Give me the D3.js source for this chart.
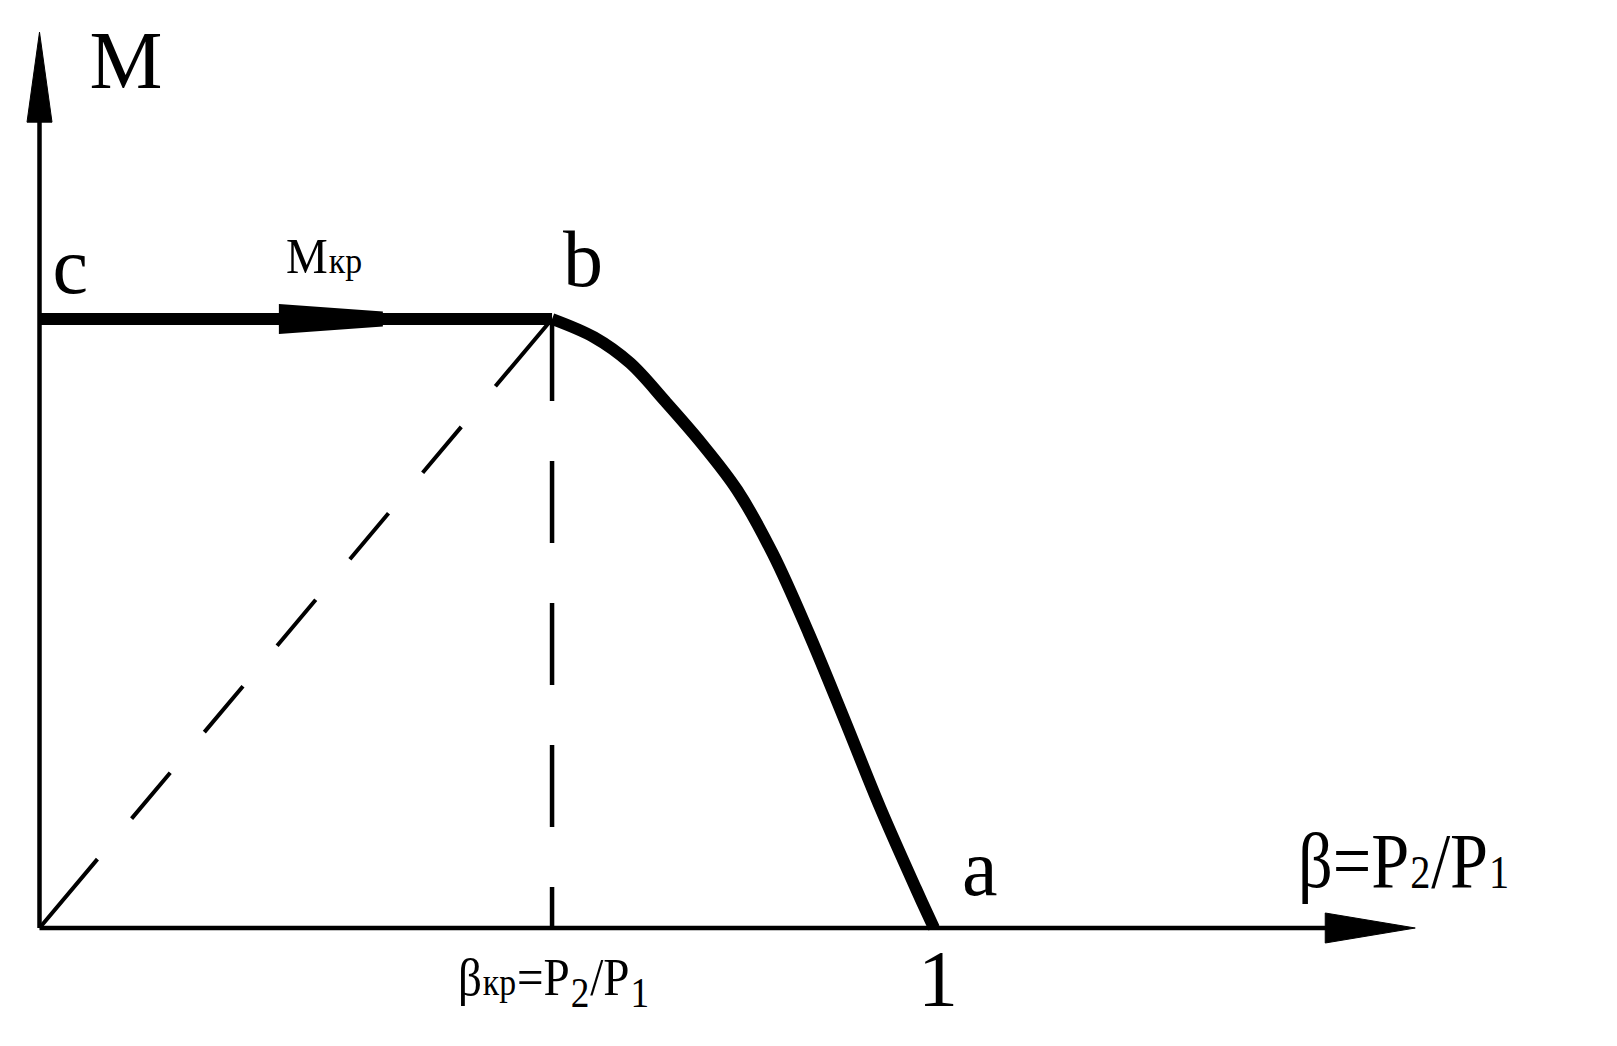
<!DOCTYPE html>
<html>
<head>
<meta charset="utf-8">
<script src="https://cdn.jsdelivr.net/npm/d3@7/dist/d3.min.js"></script>
<style>
  html, body { margin: 0; padding: 0; background: #fff; }
  svg { display: block; }
  text { font-family: "Liberation Serif", "Times New Roman", serif; fill: #000; }
</style>
</head>
<body>
<svg id="chart" width="1617" height="1046"></svg>
<script>
// ---- data (β = P2/P1 on x, M on y; M normalised to M_kr = 1) ----
const betaKr = 0.573;          // critical pressure ratio
const mKr = 1.0;               // critical (max) value
const axisXMax = 1.538;        // arrow tip of β axis
const axisYMax = 1.471;        // arrow tip of M axis
// curve b -> a
const curveBeta = [0.573, 0.62, 0.66, 0.70, 0.74, 0.78, 0.82, 0.86, 0.90, 0.94, 0.98, 1.0];
const curveM    = [1.000, 0.970, 0.928, 0.864, 0.796, 0.719, 0.614, 0.484, 0.342, 0.197, 0.064, 0.0];
// point labels
const pointNames = ["c", "b", "a"];
const pointBeta  = [0, betaKr, 1];
const pointM     = [mKr, mKr, 0];
const tickLabels = ["1"];
const tickValues = [1];

const svg = d3.select("#chart");
const x = d3.scaleLinear().domain([0, 1]).range([39.5, 934]);
const y = d3.scaleLinear().domain([0, 1]).range([928, 319]);

const ink = "#000";

// ---- axes ----
svg.append("line")
  .attr("x1", x(0)).attr("y1", y(0)).attr("x2", x(0)).attr("y2", y(axisYMax) + 20)
  .attr("stroke", ink).attr("stroke-width", 4.5);
svg.append("line")
  .attr("x1", x(0)).attr("y1", y(0)).attr("x2", x(axisXMax) - 20).attr("y2", y(0))
  .attr("stroke", ink).attr("stroke-width", 4.5);

// arrowheads
const yt = y(axisYMax), x0 = x(0);
svg.append("path")
  .attr("d", `M${x0},${yt} L${x0 + 12.5},${yt + 90} L${x0 - 12.5},${yt + 90} Z`)
  .attr("fill", ink).attr("stroke", ink).attr("stroke-width", 1).attr("stroke-linejoin", "round");
const xt = x(axisXMax), y0 = y(0);
svg.append("path")
  .attr("d", `M${xt},${y0} L${xt - 90},${y0 - 15} L${xt - 90},${y0 + 15} Z`)
  .attr("fill", ink).attr("stroke", ink).attr("stroke-width", 1).attr("stroke-linejoin", "round");

// ---- dashed construction lines ----
svg.append("line")
  .attr("x1", x(betaKr)).attr("y1", y(mKr)).attr("x2", x(betaKr)).attr("y2", y(0))
  .attr("stroke", ink).attr("stroke-width", 4.5).attr("stroke-dasharray", "82,60");
svg.append("line")
  .attr("x1", x(0)).attr("y1", y(0)).attr("x2", x(betaKr)).attr("y2", y(mKr))
  .attr("stroke", ink).attr("stroke-width", 4)
  .attr("stroke-dasharray", "90,53,60,53,60,53,60,53,60,53,60,53,120");

// ---- c-b horizontal (M_kr) ----
svg.append("line")
  .attr("x1", x(0)).attr("y1", y(mKr)).attr("x2", x(betaKr)).attr("y2", y(mKr))
  .attr("stroke", ink).attr("stroke-width", 12);
// direction arrow on c-b
const ax0 = x(0) + (x(betaKr) - x(0)) * 0.467, ax1 = ax0 + 104, ay = y(mKr);
svg.append("path")
  .attr("d", `M${ax0},${ay - 15} L${ax1},${ay - 7.5} L${ax1},${ay + 7.5} L${ax0},${ay + 15} Z`)
  .attr("fill", ink);

// ---- curve b-a ----
const pts = curveBeta.map((b, i) => [b, curveM[i]]);
svg.append("path")
  .attr("d", d3.line().x(d => x(d[0])).y(d => y(d[1])).curve(d3.curveCatmullRom.alpha(0.5))(pts))
  .attr("fill", "none").attr("stroke", ink).attr("stroke-width", 12).attr("stroke-linejoin", "round");

// ---- text ----
// axis title M
svg.append("text").attr("x", x(0) + 50).attr("y", 88).attr("font-size", 82).text("M");

// point labels
const labelOffsets = [[13, -26], [11, -33], [28, -33]];
pointNames.forEach((n, i) => {
  svg.append("text")
    .attr("x", x(pointBeta[i]) + labelOffsets[i][0])
    .attr("y", y(pointM[i]) + labelOffsets[i][1])
    .attr("font-size", 80).text(n);
});

// tick label "1"
tickValues.forEach((v, i) => {
  svg.append("text").attr("x", x(v) + 4).attr("y", 1006)
    .attr("text-anchor", "middle").attr("font-size", 80).text(tickLabels[i]);
});

// rich label: parts laid out left to right, whole group squeezed to target width
function richLabel(px, py, width, parts) {
  const g = svg.append("g");
  let cx = 0;
  parts.forEach(p => {
    const t = g.append("text").attr("x", cx).attr("y", p.dy || 0)
      .attr("font-size", p.size).text(p.text);
    cx += t.node().getComputedTextLength() + 1;
  });
  g.attr("transform", `translate(${px},${py}) scale(${width / cx},1)`);
}

// M_kr label
richLabel(286, 273, 77, [
  { text: "M", size: 50 }, { text: "кр", size: 36 }
]);
// β axis label
richLabel(1298, 887, 212, [
  { text: "β=P", size: 78 }, { text: "2", size: 46, dy: 1 },
  { text: "/P", size: 78 }, { text: "1", size: 46, dy: 1 }
]);
// β_kr label
richLabel(458, 995, 192, [
  { text: "β", size: 53 }, { text: "кр", size: 38 }, { text: "=P", size: 53 },
  { text: "2", size: 42, dy: 12 }, { text: "/P", size: 53 }, { text: "1", size: 42, dy: 12 }
]);
</script>
</body>
</html>
